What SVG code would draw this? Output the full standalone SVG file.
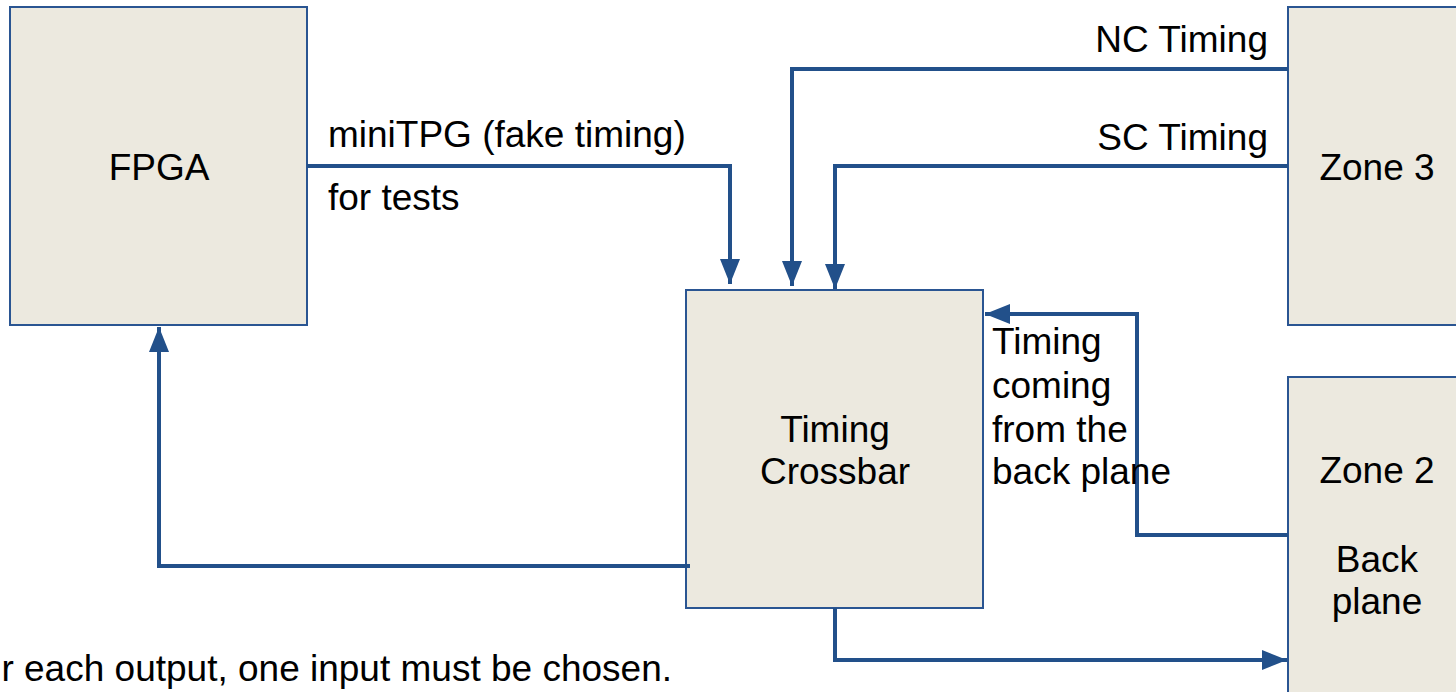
<svg xmlns="http://www.w3.org/2000/svg" width="1456" height="692" viewBox="0 0 1456 692">
<style>
.box{fill:#ece9df;stroke:#2a5592;stroke-width:2}
.t{font-family:"Liberation Sans",Arial,sans-serif;font-size:37px;fill:#000}
.c{text-anchor:middle}
.e{text-anchor:end}
.w{fill:none;stroke:#22508a;stroke-width:4}
</style>
<defs>
<marker id="ah" viewBox="0 0 25 20" refX="25" refY="10" markerUnits="userSpaceOnUse" markerWidth="25" markerHeight="20" orient="auto">
<path d="M0,0 L25,10 L0,20 Z" fill="#22508a"/>
</marker>
</defs>
<rect width="1456" height="692" fill="#fff"/>
<g id="fpga"><rect class="box" x="10" y="7" width="297" height="318"/><text class="t c" x="159" y="180">FPGA</text></g>
<g id="crossbar"><rect class="box" x="686" y="290" width="297" height="318"/><text class="t c" x="835" y="442">Timing</text><text class="t c" x="835" y="484">Crossbar</text></g>
<g id="zone3"><rect class="box" x="1288" y="7" width="200" height="318"/><text class="t c" x="1377" y="180">Zone 3</text></g>
<g id="zone2"><rect class="box" x="1288" y="377" width="200" height="330"/><text class="t c" x="1377" y="483">Zone 2</text><text class="t c" x="1377" y="572">Back</text><text class="t c" x="1377" y="614">plane</text></g>
<g id="connectors">
<path class="w" d="M307,166 H730 V284" marker-end="url(#ah)"/>
<path class="w" d="M1288,69 H792 V286" marker-end="url(#ah)"/>
<path class="w" d="M1288,166 H835 V289" marker-end="url(#ah)"/>
<path class="w" d="M1288,535 H1137 V314 H985" marker-end="url(#ah)"/>
<path class="w" d="M690,566 H159 V327" marker-end="url(#ah)"/>
<path class="w" d="M835,608 V660 H1287" marker-end="url(#ah)"/>
</g>
<g id="labels">
<text class="t" x="328" y="147">miniTPG (fake timing)</text>
<text class="t" x="328" y="210">for tests</text>
<text class="t e" x="1268" y="52">NC Timing</text>
<text class="t e" x="1268" y="150">SC Timing</text>
<text class="t" x="992" y="354">Timing</text>
<text class="t" x="992" y="398">coming</text>
<text class="t" x="992" y="442">from the</text>
<text class="t" x="992" y="484">back plane</text>
<text class="t e" x="672" y="681">r each output, one input must be chosen.</text>
</g>
</svg>
